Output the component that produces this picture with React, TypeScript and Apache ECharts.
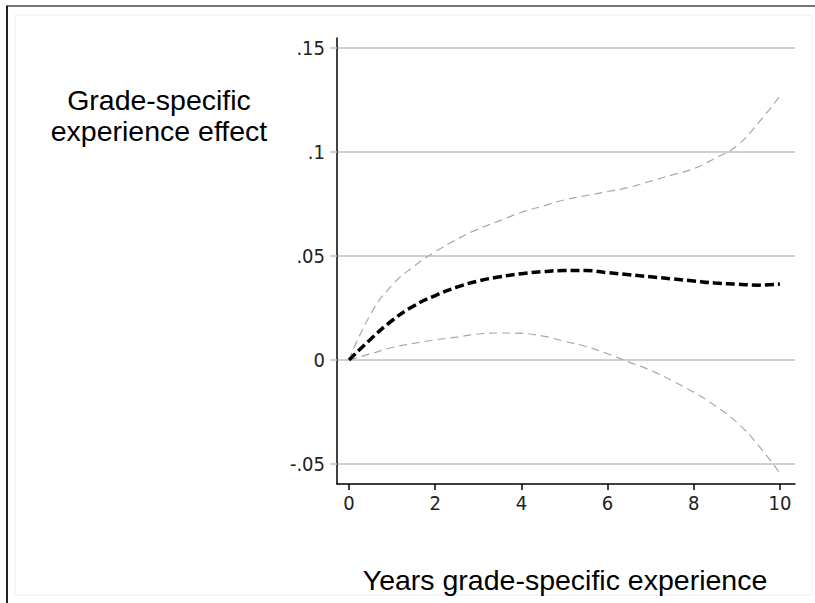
import React, { useEffect, useRef } from "react";
import * as echarts from "echarts";

const xValues = [0, 0.5, 1, 1.5, 2, 2.5, 3, 3.5, 4, 4.5, 5, 5.5, 6, 6.5, 7, 7.5, 8, 8.5, 9, 9.5, 10];
const effect = [0, 0.010, 0.019, 0.026, 0.031, 0.035, 0.038, 0.040, 0.0415, 0.0425, 0.043, 0.043, 0.042, 0.041, 0.040, 0.039, 0.038, 0.037, 0.0365, 0.036, 0.0365];
const upper = [0, 0.022, 0.036, 0.045, 0.052, 0.058, 0.063, 0.067, 0.071, 0.074, 0.077, 0.079, 0.081, 0.083, 0.086, 0.089, 0.092, 0.097, 0.103, 0.114, 0.127];
const lower = [0, 0.003, 0.006, 0.008, 0.0097, 0.011, 0.0125, 0.013, 0.0128, 0.0115, 0.009, 0.0065, 0.003, -0.001, -0.005, -0.010, -0.0155, -0.022, -0.030, -0.041, -0.0545];
const xTicks = [0, 2, 4, 6, 8, 10];
const yTicks = [-0.05, 0, 0.05, 0.1, 0.15];

const fmtY = (v: number) => {
  if (Math.abs(v) < 1e-9) return "0";
  const s = String(Math.round(v * 100) / 100);
  return s.replace(/^(-?)0\./, "$1.");
};

export default function App() {
  const ref = useRef<HTMLDivElement>(null);
  useEffect(() => {
    document.body.style.margin = "0";
    const chart = echarts.init(ref.current!, null, { renderer: "svg" });
    const pair = (arr: number[]) => xValues.map((x, i) => [x, arr[i]]);
    const narrow = "'Liberation Sans Narrow', 'DejaVu Sans Condensed', 'Liberation Sans', Arial, sans-serif";
    chart.setOption({
      animation: false,
      backgroundColor: "#ffffff",
      grid: { left: 337, right: 20, top: 38, bottom: 119, containLabel: false },
      xAxis: {
        type: "value",
        min: -0.28,
        max: 10.35,
        axisLine: { show: true, onZero: false, lineStyle: { color: "#000", width: 1.5 } },
        axisTick: { show: true, length: 6, customValues: xTicks, lineStyle: { color: "#000", width: 1.5 } },
        axisLabel: { customValues: xTicks, margin: 9, color: "#222", fontSize: 20, fontFamily: narrow },
        splitLine: { show: false },
      },
      yAxis: {
        type: "value",
        min: -0.0596,
        max: 0.1548,
        axisLine: { show: true, onZero: false, lineStyle: { color: "#000", width: 1.5 } },
        axisTick: { show: true, length: 7, customValues: yTicks, lineStyle: { color: "#c0c0c0", width: 1.5 } },
        axisLabel: { customValues: yTicks, margin: 12, color: "#222", fontSize: 20, fontFamily: narrow, formatter: fmtY },
        splitLine: { show: true, lineStyle: { color: "#c0c0c0", width: 1.5 } },
      },
      series: [
        {
          type: "line", data: pair(upper), smooth: true, showSymbol: false, z: 2,
          lineStyle: { color: "#a8a8a8", width: 1.2, type: [8, 5] },
        },
        {
          type: "line", data: pair(lower), smooth: true, showSymbol: false, z: 2,
          lineStyle: { color: "#a8a8a8", width: 1.2, type: [8, 5] },
        },
        {
          type: "line", data: pair(effect), smooth: true, showSymbol: false, z: 3,
          lineStyle: { color: "#000", width: 3.5, type: [9, 4] },
        },
      ],
      graphic: [
        { type: "rect", shape: { x: 15, y: 15, width: 797, height: 580 }, style: { fill: "none", stroke: "#eeeeee", lineWidth: 1 }, silent: true },
        { type: "line", shape: { x1: 6, y1: 6, x2: 815, y2: 6 }, style: { stroke: "#777", lineWidth: 2 }, silent: true },
        { type: "line", shape: { x1: 7, y1: 6, x2: 7, y2: 603 }, style: { stroke: "#222", lineWidth: 2 }, silent: true },
        {
          type: "text", x: 159, y: 115,
          style: { text: "Grade-specific\nexperience effect", fontSize: 28.5, lineHeight: 31, fontFamily: "'Liberation Sans', Arial, sans-serif", fill: "#000", align: "center", verticalAlign: "middle" },
        },
        {
          type: "text", x: 565, y: 580,
          style: { text: "Years grade-specific experience", fontSize: 28.5, fontFamily: "'Liberation Sans', Arial, sans-serif", fill: "#000", align: "center", verticalAlign: "middle" },
        },
      ],
    });
    return () => chart.dispose();
  }, []);
  return <div ref={ref} style={{ width: 815, height: 603, position: "absolute", left: 0, top: 0 }} />;
}
